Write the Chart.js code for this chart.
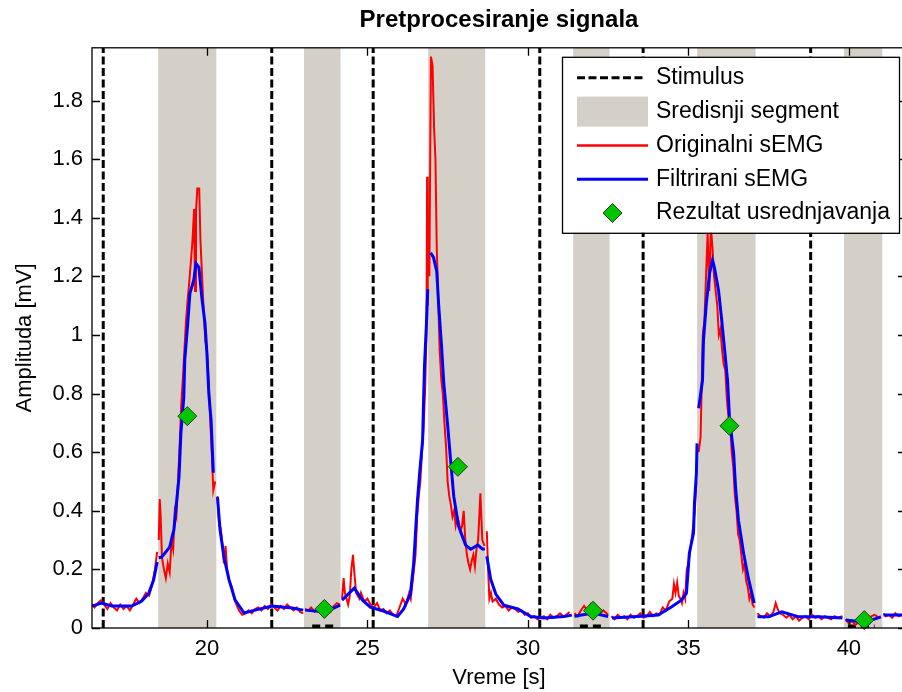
<!DOCTYPE html>
<html>
<head>
<meta charset="utf-8">
<script src="https://cdn.jsdelivr.net/npm/chart.js@4.4.1/dist/chart.umd.min.js"></script>
<style>
  html, body { margin: 0; padding: 0; background: #fff; }
  #wrap { width: 902px; height: 692px; overflow: hidden; position: relative; }
  canvas { display: block; }
</style>
</head>
<body>
<div id="wrap"><canvas id="semg" width="908" height="692"></canvas></div>
<script>
// time axis / amplitude axis
const xMin = 16.42, xMax = 41.78;
const yMin = 0, yMax = 1.98;
const xTicks = [20, 25, 30, 35, 40];
const yTicks = [0, 0.2, 0.4, 0.6, 0.8, 1, 1.2, 1.4, 1.6, 1.8];

// stimulus onsets [s]
const stimX = [16.77, 22.02, 25.18, 30.37, 33.59, 38.81];

// central segments [s]
const segStart = [18.48, 23.02, 26.89, 31.41, 35.27, 39.84];
const segEnd = [20.30, 24.17, 28.68, 32.55, 37.10, 41.05];

// small marks on the time axis
const markStart = [23.28, 31.62, 39.97];
const markEnd = [24.06, 32.40, 40.80];

// averaging result
const avgX = [19.39, 23.66, 27.82, 32.03, 36.28, 40.48];
const avgY = [0.723, 0.065, 0.55, 0.059, 0.69, 0.027];

// original sEMG (null = gap)
const rawX = [
  16.42,16.5,16.6,16.7,16.8,16.9,17.0,17.1,17.2,17.3,17.4,17.5,17.6,17.7,17.8,17.9,18.0,18.1,18.2,18.3,18.38,18.45,null,
  18.5,18.53,18.56,18.6,18.66,18.72,18.78,18.84,18.9,18.95,19.0,19.05,19.1,19.15,19.2,19.25,19.3,19.35,19.4,19.45,19.5,19.55,19.6,19.63,19.66,19.7,19.76,19.8,19.85,19.9,19.95,20.0,20.05,20.1,20.15,20.2,20.26,null,
  20.33,20.38,20.43,20.48,20.53,20.58,20.63,20.7,20.78,20.85,20.92,21.0,21.1,21.2,21.3,21.4,21.5,21.6,21.7,21.8,21.9,22.0,22.1,22.2,22.3,22.4,22.5,22.6,22.7,22.8,22.9,23.0,null,
  23.06,23.15,23.25,23.35,23.45,23.55,23.65,23.75,23.85,23.95,24.05,24.15,null,
  24.21,24.26,24.3,24.35,24.4,24.45,24.5,24.55,24.6,24.65,24.7,24.75,24.8,24.9,25.0,25.1,25.2,25.3,25.4,25.5,25.6,25.7,25.8,25.9,26.0,26.1,26.2,26.3,26.35,26.4,26.45,26.5,26.55,26.6,26.65,26.7,26.75,26.8,26.84,26.86,26.88,null,
  26.93,26.98,27.03,27.08,27.12,27.16,27.2,27.25,27.3,27.35,27.4,27.45,27.5,27.55,27.6,27.65,27.7,27.75,27.8,27.85,27.9,27.95,28.0,28.05,28.1,28.15,28.2,28.25,28.3,28.35,28.4,28.45,28.52,28.58,28.65,null,
  28.72,28.76,28.8,28.85,28.9,29.0,29.1,29.2,29.3,29.4,29.5,29.6,29.7,29.8,29.9,30.0,30.1,30.2,30.3,30.4,30.5,30.6,30.7,30.8,30.9,31.0,31.1,31.2,31.3,null,
  31.45,31.55,31.65,31.75,31.85,31.95,32.05,32.15,32.25,32.35,32.5,null,
  32.6,32.7,32.8,32.9,33.0,33.1,33.2,33.3,33.4,33.5,33.6,33.7,33.8,33.9,34.0,34.1,34.2,34.3,34.4,34.5,34.55,34.6,34.65,34.7,34.75,34.8,34.85,34.9,34.95,35.0,35.05,35.1,35.15,35.2,35.25,null,
  35.32,35.38,35.42,35.45,35.5,35.55,35.6,35.65,35.7,35.75,35.8,35.85,35.9,35.95,36.0,36.05,36.1,36.15,36.2,36.25,36.3,36.35,36.4,36.45,36.5,36.55,36.6,36.65,36.7,36.75,36.8,36.85,36.9,36.95,37.0,37.06,null,
  37.15,37.25,37.35,37.45,37.55,37.65,37.72,37.78,37.85,37.95,38.05,38.15,38.25,38.35,38.45,38.55,38.65,38.75,38.85,38.95,39.05,39.15,39.25,39.35,39.45,39.55,39.65,39.8,null,
  39.9,40.0,40.1,40.2,40.3,40.4,40.5,40.6,40.7,40.8,40.95,null,
  41.08,41.15,41.25,41.35,41.45,41.55,41.65,41.78
];
const rawY = [
  0.08,0.07,0.085,0.095,0.08,0.065,0.085,0.07,0.06,0.08,0.065,0.075,0.06,0.08,0.1,0.085,0.1,0.12,0.11,0.15,0.2,0.26,null,
  0.3,0.44,0.38,0.24,0.2,0.17,0.22,0.19,0.3,0.27,0.4,0.38,0.5,0.62,0.76,0.85,0.95,1.05,1.12,1.18,1.25,1.32,1.43,1.15,1.42,1.5,1.5,1.32,1.2,1.08,0.98,0.95,0.85,0.72,0.6,0.47,0.5,null,
  0.45,0.35,0.34,0.29,0.22,0.28,0.2,0.16,0.14,0.1,0.08,0.06,0.045,0.05,0.06,0.05,0.065,0.07,0.06,0.075,0.065,0.08,0.07,0.06,0.075,0.065,0.08,0.07,0.06,0.07,0.055,0.05,null,
  0.065,0.06,0.07,0.055,0.065,0.05,0.07,0.06,0.055,0.075,0.085,0.08,null,
  0.1,0.17,0.12,0.1,0.08,0.11,0.2,0.25,0.18,0.12,0.11,0.1,0.12,0.09,0.1,0.08,0.07,0.085,0.06,0.065,0.05,0.06,0.045,0.04,0.07,0.1,0.08,0.12,0.1,0.15,0.2,0.25,0.38,0.45,0.5,0.6,0.68,0.82,1.0,1.54,1.1,null,
  1.2,1.95,1.92,1.7,1.6,1.3,1.15,0.95,0.85,0.8,0.7,0.62,0.5,0.45,0.42,0.38,0.4,0.35,0.38,0.36,0.33,0.35,0.4,0.3,0.25,0.22,0.2,0.23,0.25,0.21,0.27,0.3,0.46,0.3,0.28,null,
  0.33,0.2,0.1,0.12,0.09,0.1,0.08,0.07,0.075,0.06,0.07,0.065,0.055,0.06,0.045,0.05,0.035,0.04,0.03,0.035,0.04,0.03,0.045,0.035,0.04,0.05,0.04,0.045,0.055,null,
  0.05,0.04,0.06,0.075,0.06,0.08,0.055,0.07,0.05,0.06,0.045,null,
  0.04,0.03,0.045,0.035,0.04,0.03,0.045,0.035,0.04,0.05,0.035,0.04,0.055,0.04,0.05,0.045,0.07,0.06,0.09,0.1,0.15,0.12,0.155,0.11,0.1,0.085,0.12,0.1,0.2,0.22,0.26,0.3,0.35,0.4,0.5,null,
  0.6,0.65,0.85,1.0,1.05,1.2,1.35,1.15,1.37,1.3,1.2,1.15,1.1,1.0,1.02,0.95,0.9,0.88,0.78,0.72,0.7,0.6,0.55,0.45,0.4,0.32,0.3,0.25,0.2,0.22,0.16,0.14,0.1,0.12,0.08,0.07,null,
  0.05,0.04,0.035,0.05,0.04,0.055,0.085,0.065,0.05,0.045,0.035,0.045,0.03,0.04,0.025,0.035,0.04,0.03,0.045,0.035,0.04,0.03,0.04,0.035,0.03,0.04,0.035,0.04,null,
  0.03,0.015,0.025,0.01,0.02,0.015,0.03,0.02,0.04,0.045,0.035,null,
  0.05,0.04,0.045,0.035,0.05,0.04,0.045,0.04
];

// filtered sEMG (null = gap)
const filtX = [
  16.42,16.72,17.03,17.66,17.97,18.19,18.34,18.45,null,
  18.5,18.59,18.84,18.97,19.06,19.13,19.19,19.28,19.31,19.41,19.47,19.59,19.66,19.75,19.84,19.94,20.0,20.06,20.13,20.2,null,
  20.33,20.41,20.53,20.69,20.88,21.16,21.5,22.03,22.66,23.0,null,
  23.06,23.69,24.15,null,
  24.21,24.59,24.85,25.09,25.5,25.94,26.13,26.34,26.44,26.5,26.56,26.63,26.72,26.75,26.78,26.84,26.88,null,
  26.97,27.06,27.16,27.22,27.31,27.38,27.5,27.59,27.69,27.84,28.06,28.22,28.44,28.59,28.66,null,
  28.72,28.84,29.0,29.25,29.69,30.09,30.5,31.13,31.37,null,
  31.45,32.03,32.5,null,
  32.62,33.53,34.06,34.47,34.78,34.94,35.03,35.16,35.19,35.25,35.27,null,
  35.32,35.44,35.47,35.56,35.66,35.75,35.81,35.94,36.03,36.13,36.22,36.28,36.41,36.47,36.56,36.72,36.88,37.05,null,
  37.15,37.5,37.91,38.44,39.06,39.8,null,
  39.9,40.5,41.0,null,
  41.08,41.78
];
const filtY = [
  0.075,0.085,0.075,0.075,0.092,0.119,0.164,0.225,null,
  0.24,0.242,0.276,0.334,0.436,0.515,0.665,0.788,0.914,1.05,1.142,1.187,1.244,1.231,1.129,1.04,0.938,0.8,0.709,0.53,null,
  0.447,0.334,0.242,0.164,0.095,0.051,0.061,0.075,0.068,0.061,null,
  0.061,0.055,0.078,null,
  0.095,0.136,0.095,0.071,0.058,0.039,0.065,0.116,0.218,0.327,0.436,0.532,0.641,0.777,0.897,1.04,1.156,null,
  1.28,1.265,1.217,1.103,0.961,0.835,0.692,0.576,0.45,0.348,0.283,0.269,0.283,0.269,0.27,null,
  0.245,0.167,0.116,0.078,0.065,0.039,0.034,0.039,0.044,null,
  0.04,0.051,0.039,null,
  0.034,0.04,0.044,0.072,0.095,0.119,0.255,0.324,0.426,0.528,0.63,null,
  0.75,0.845,0.982,1.108,1.21,1.255,1.231,1.152,1.06,0.948,0.845,0.719,0.596,0.48,0.368,0.255,0.164,0.085,null,
  0.038,0.038,0.055,0.038,0.038,0.034,null,
  0.027,0.02,0.038,null,
  0.044,0.044
];

const legendLabels = ['Stimulus', 'Sredisnji segment', 'Originalni sEMG', 'Filtrirani sEMG', 'Rezultat usrednjavanja'];

const GREY = '#d4d0c8';
const GREEN = '#00c400';

const pts = (xs, ys) => xs.map((x, i) => ({ x: x, y: ys[i] }));

const segPts = [];
segStart.forEach((s, i) => {
  segPts.push({ x: s, y: yMax }, { x: segEnd[i], y: yMax }, { x: null, y: null });
});
const stimPts = [];
stimX.forEach(s => { stimPts.push({ x: s, y: yMin }, { x: s, y: yMax }, { x: null, y: null }); });
const markPts = [];
markStart.forEach((s, i) => { markPts.push({ x: s, y: 0.006 }, { x: markEnd[i], y: 0.006 }, { x: null, y: null }); });

// box, inward ticks and legend, drawn MATLAB style
const axesBox = {
  id: 'axesBox',
  afterDraw(chart) {
    const { ctx, chartArea: a, scales: { x, y } } = chart;
    ctx.save();
    ctx.strokeStyle = '#000';
    ctx.lineWidth = 1.3;
    ctx.strokeRect(a.left, a.top, a.right - a.left, a.bottom - a.top);
    ctx.beginPath();
    xTicks.forEach(v => {
      const px = Math.round(x.getPixelForValue(v)) + 0.5;
      ctx.moveTo(px, a.bottom); ctx.lineTo(px, a.bottom - 8);
      ctx.moveTo(px, a.top); ctx.lineTo(px, a.top + 8);
    });
    yTicks.forEach(v => {
      const py = Math.round(y.getPixelForValue(v)) + 0.5;
      ctx.moveTo(a.left, py); ctx.lineTo(a.left + 8, py);
      ctx.moveTo(a.right, py); ctx.lineTo(a.right - 8, py);
    });
    ctx.stroke();

    // legend
    const bx = 562, by = a.top + 9, bw = 337, bh = 176;
    ctx.fillStyle = '#fff';
    ctx.fillRect(bx, by, bw, bh);
    ctx.lineWidth = 1.3;
    ctx.strokeRect(bx + 0.5, by + 0.5, bw, bh);
    const rowY = i => by + 21 + i * 33.8;
    const sx0 = bx + 15, sx1 = bx + 82;
    ctx.lineWidth = 3;
    ctx.strokeStyle = '#000';
    ctx.setLineDash([8, 3.5]);
    ctx.beginPath(); ctx.moveTo(sx0, rowY(0)); ctx.lineTo(sx1, rowY(0)); ctx.stroke();
    ctx.setLineDash([]);
    ctx.fillStyle = GREY;
    ctx.fillRect(sx0, rowY(1) - 15, sx1 - sx0 + 4, 30);
    ctx.lineWidth = 2.5; ctx.strokeStyle = '#f00';
    ctx.beginPath(); ctx.moveTo(sx0, rowY(2)); ctx.lineTo(sx1 + 4, rowY(2)); ctx.stroke();
    ctx.lineWidth = 3; ctx.strokeStyle = '#00f';
    ctx.beginPath(); ctx.moveTo(sx0, rowY(3)); ctx.lineTo(sx1 + 4, rowY(3)); ctx.stroke();
    const cx = (sx0 + sx1 + 4) / 2, cy = rowY(4);
    ctx.beginPath();
    ctx.moveTo(cx - 9.5, cy); ctx.lineTo(cx, cy - 9.5); ctx.lineTo(cx + 9.5, cy); ctx.lineTo(cx, cy + 9.5); ctx.closePath();
    ctx.fillStyle = GREEN; ctx.fill();
    ctx.lineWidth = 1; ctx.strokeStyle = '#1f3f1f'; ctx.stroke();
    ctx.fillStyle = '#000';
    ctx.font = "23px 'Liberation Sans', Arial, sans-serif";
    ctx.textBaseline = 'middle';
    ctx.textAlign = 'left';
    legendLabels.forEach((t, i) => ctx.fillText(t, bx + 94, rowY(i)));
    ctx.restore();
  }
};

Chart.defaults.font.family = "'Liberation Sans', Arial, sans-serif";
Chart.defaults.font.size = 22;
Chart.defaults.color = '#000';

new Chart(document.getElementById('semg'), {
  type: 'scatter',
  data: {
    datasets: [
      { label: 'Rezultat usrednjavanja', data: pts(avgX, avgY), order: 0, clip: false,
        pointStyle: 'rectRot', pointRadius: 9.5, backgroundColor: GREEN, borderColor: '#1f3f1f', borderWidth: 1 },
      { label: 'Filtrirani sEMG', data: pts(filtX, filtY), order: 1, showLine: true, spanGaps: false,
        borderColor: '#0000ff', borderWidth: 3, pointRadius: 0, tension: 0 },
      { label: 'Originalni sEMG', data: pts(rawX, rawY), order: 2, showLine: true, spanGaps: false,
        borderColor: '#ff0000', borderWidth: 2, pointRadius: 0, tension: 0 },
      { label: 'marks', data: markPts, order: 3, showLine: true, spanGaps: false,
        borderColor: '#000', borderWidth: 3.5, borderDash: [8, 5], pointRadius: 0 },
      { label: 'Stimulus', data: stimPts, order: 4, showLine: true, spanGaps: false,
        borderColor: '#000', borderWidth: 3, borderDash: [8, 3.5], pointRadius: 0 },
      { label: 'Sredisnji segment', data: segPts, order: 5, showLine: true, spanGaps: false,
        borderColor: 'rgba(0,0,0,0)', borderWidth: 1, backgroundColor: GREY, fill: 'origin', pointRadius: 0 }
    ]
  },
  options: {
    responsive: false,
    animation: false,
    events: [],
    layout: { autoPadding: false, padding: { right: 2, left: 0, top: 0, bottom: 0 } },
    plugins: {
      legend: { display: false },
      tooltip: { enabled: false },
      title: { display: true, text: 'Pretprocesiranje signala', fullSize: false,
        font: { size: 24, weight: 'bold' }, padding: { top: 6, bottom: 13 } }
    },
    scales: {
      x: {
        type: 'linear', min: xMin, max: xMax,
        afterBuildTicks: s => { s.ticks = xTicks.map(v => ({ value: v })); },
        afterFit: s => { s.height = 64; s.paddingLeft = 0; s.paddingRight = 0; },
        grid: { display: false, drawTicks: false },
        border: { display: false },
        ticks: { padding: 8, maxRotation: 0, callback: v => String(v) },
        title: { display: true, text: 'Vreme [s]', padding: { top: 0, bottom: 1 } }
      },
      y: {
        type: 'linear', min: yMin, max: yMax,
        afterBuildTicks: s => { s.ticks = yTicks.map(v => ({ value: v })); },
        afterFit: s => { s.width = 92; s.paddingTop = 0; s.paddingBottom = 0; },
        grid: { display: false, drawTicks: false },
        border: { display: false },
        ticks: { padding: 9, callback: v => String(+v.toFixed(1)) },
        title: { display: true, text: 'Amplituda [mV]', padding: { top: 12, bottom: 0 } }
      }
    }
  },
  plugins: [axesBox]
});
</script>
</body>
</html>
